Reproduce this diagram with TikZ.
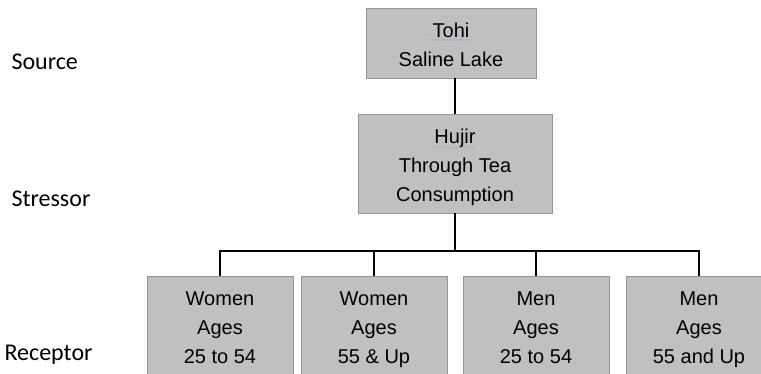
\documentclass[tikz,border=0pt]{standalone}
\usepackage{fontspec}
\setmainfont{Liberation Sans}
\newfontfamily\levelfont{Carlito}
\usetikzlibrary{positioning,calc,decorations.pathmorphing}
\definecolor{boxgray}{RGB}{192,192,192}
\definecolor{edgegray}{RGB}{150,150,150}
\definecolor{squiggle}{RGB}{165,175,195}
\newcommand{\topstrut}{\rule{0pt}{26pt}}

\begin{document}
\begin{tikzpicture}[
    x=1pt, y=-1pt,
    box/.style={rectangle, draw=edgegray, line width=0.8pt, fill=boxgray, align=center, inner sep=0pt,
        font=\fontsize{20}{29}\selectfont, execute at end node=\strut},
    group/.style={box, minimum width=146pt, minimum height=100pt},
    level/.style={anchor=base west, font=\levelfont\fontsize{24}{28}\selectfont},
    link/.style={line width=1.6pt},
    squig/.style={squiggle, line width=0.6pt, decorate, decoration={snake, amplitude=0.8pt, segment length=3pt}}
]
    \useasboundingbox (0,0) rectangle (761,374);
    \clip (0,0) rectangle (761,374);

    % Levels
    \node[level] (lsrc) at (8,70) {Source};
    \node[level] (lstr) at (8,207) {Stressor};
    \node[level] (lrec) at (1,360) {Receptor};

    % Source and stressor
    \node[box, minimum width=170pt, minimum height=70pt] (src) at (451,43) {\topstrut Tohi\\Saline Lake};
    \node[box, minimum width=194pt, minimum height=99pt] (str) at (455,163.5) {\topstrut Hujir\\Through Tea\\Consumption};

    % Receptors
    \node[group] (w1) at (220,326) {\topstrut Women\\Ages\\25 to 54};
    \node[group] (w2) at (374,326) {\topstrut Women\\Ages\\55 \& Up};
    \node[group] (m1) at (536,326) {\topstrut Men\\Ages\\25 to 54};
    \node[group] (m2) at (699,326) {\topstrut Men\\Ages\\55 and Up};

    % Spell-check marks
    \draw[squig] ($(src.center)+(-22,-3)$) -- ++(42,0);
    \draw[squig] ($(str.center)+(-23,-16)$) -- ++(43,0);

    % Edges
    \coordinate (bus) at (455,251);
    \draw[link] (str.north) -- (str.north |- src.south);
    \draw[link] (str.south) -- (bus);
    \draw[link] (w1.north) |- (m2.north |- bus) -- (m2.north);
    \foreach \n in {w2,m1}
        \draw[link] (\n.north) -- (\n.north |- bus);
\end{tikzpicture}
\end{document}
